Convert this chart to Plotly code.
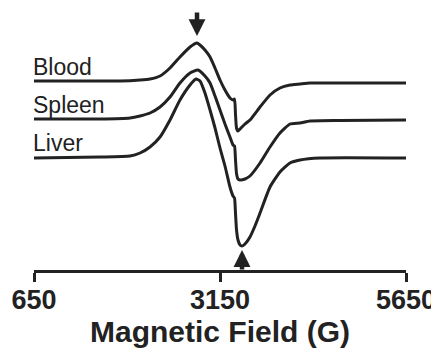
import numpy as np
import plotly.graph_objects as go

# ---- data (field in G, derivative intensity in arbitrary units, baseline = 0) ----
series_names = ["Blood", "Spleen", "Liver"]

blood_field = [650, 1537, 1806, 2075, 2209, 2344, 2478, 2612, 2747, 2841, 2881, 2948, 3016,
               3083, 3150, 3217, 3284, 3325, 3345, 3358, 3372, 3392, 3419, 3486, 3553, 3688, 3822,
               3956, 4091, 4225, 4360, 4763, 5650]
blood_signal = [1, 1, 1, 2, 3, 6, 14, 25, 35, 39, 37, 32, 25,
                14, 2, -8, -16, -18, -17, -32, -46, -49, -47, -42, -38, -25, -13,
                -6, -3, -2, -1, -1, -1]

spleen_field = [650, 1537, 1940, 2075, 2209, 2344, 2478, 2612, 2747, 2854, 2948, 3016,
                3083, 3150, 3217, 3284, 3325, 3345, 3358, 3372, 3392, 3419, 3486, 3553, 3688,
                3822, 3956, 4091, 4225, 4360, 4763, 5650]
spleen_signal = [0.5, 0.5, 1.5, 3.5, 6.5, 12.5, 22.5, 36.5, 46.5, 49.5, 43.5, 36.5,
                 23.5, 9.5, -4.5, -17.5, -25.5, -26.5, -40, -54, -59.5, -60.5, -59.5, -56.5, -43.5,
                 -27.5, -13.5, -4.5, -3.5, -1.5, -1, -0.5]

liver_field = [650, 1537, 1940, 2075, 2209, 2344, 2478, 2612, 2747, 2827, 2881, 2948, 3016,
               3083, 3150, 3217, 3284, 3325, 3345, 3358, 3372, 3392, 3419, 3446, 3486, 3553, 3620,
               3688, 3822, 3956, 4091, 4225, 4494, 5650]
liver_signal = [0, 1, 2, 5, 11, 21, 38, 58, 73, 79, 77, 65, 48,
                30, 10, -8, -29, -38, -40, -55, -72, -82, -87, -88, -86, -79, -68,
                -55, -29, -14, -5, -2, 0, 0]

tick_values = [650, 3150, 5650]
tick_labels = ["650", "3150", "5650"]
x_title = "Magnetic Field (G)"

# ---- layout / style ----
offsets = [188, 150.5, 112]          # vertical stacking of the spectra
ink = "#222222"
fields = [blood_field, spleen_field, liver_field]
signals = [blood_signal, spleen_signal, liver_signal]

fig = go.Figure()
for name, f, s, off in zip(series_names, fields, signals, offsets):
    fig.add_trace(go.Scatter(
        x=f, y=np.array(s) + off, mode="lines", name=name,
        line=dict(color=ink, width=3, shape="spline", smoothing=0.5),
        showlegend=False, hoverinfo="skip", cliponaxis=False))
    fig.add_annotation(x=650, y=off + 15, text=name, showarrow=False,
                       xanchor="left", yanchor="middle", xshift=-3,
                       font=dict(family="Liberation Sans, Arial", size=23, color=ink))

# arrows marking the g-feature positions
bi = int(np.argmax(blood_signal))
fig.add_annotation(x=blood_field[bi], y=blood_signal[bi] + offsets[0] + 7,
                   ax=0, ay=-25, showarrow=True, arrowhead=2, arrowsize=0.75,
                   arrowwidth=4.5, arrowcolor=ink, text="")
li = int(np.argmin(liver_signal))
fig.add_annotation(x=liver_field[li], y=liver_signal[li] + offsets[2] - 4,
                   ax=0, ay=21, showarrow=True, arrowhead=2, arrowsize=0.75,
                   arrowwidth=4.5, arrowcolor=ink, text="")

# the page adds an 8px body margin, so the figure is sized to fit inside it
fig.update_layout(
    width=431, height=349,
    margin=dict(l=26, r=33, t=0, b=87, autoexpand=False),
    paper_bgcolor="white", plot_bgcolor="white",
    xaxis=dict(range=[650, 5650], tickvals=tick_values, ticktext=tick_labels,
               automargin=False, ticklabeloverflow="allow", ticklabelstandoff=-5,
               showgrid=False, zeroline=False, showline=True, linewidth=3,
               linecolor=ink, ticks="outside", ticklen=9, tickwidth=3, tickcolor=ink,
               tickfont=dict(family="Liberation Sans, Arial", size=27, color=ink, weight="bold"),
               title=dict(text=x_title, standoff=6,
                          font=dict(family="Liberation Sans, Arial", size=30, color=ink, weight="bold"))),
    yaxis=dict(range=[0, 262], visible=False),
)

fig.write_html("out.html")
